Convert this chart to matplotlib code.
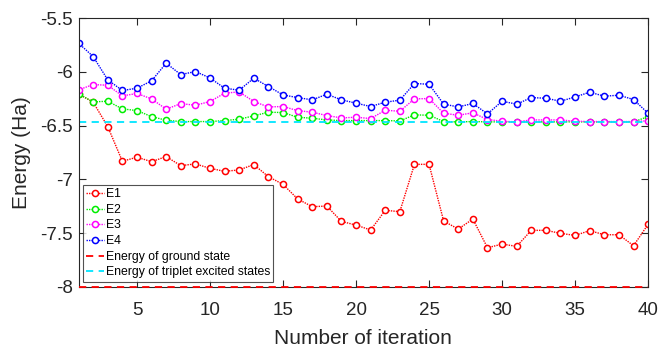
import numpy as np
import matplotlib.pyplot as plt

plt.rcParams['font.family'] = ['Liberation Sans', 'DejaVu Sans']

# iteration numbers
it = np.arange(1, 41)

# energies (Ha)
E1 = [-6.205, -6.282, -6.509, -6.831, -6.794, -6.835, -6.788, -6.872, -6.856, -6.897,
      -6.925, -6.912, -6.862, -6.975, -7.046, -7.182, -7.254, -7.248, -7.391, -7.425,
      -7.471, -7.288, -7.300, -6.860, -6.860, -7.388, -7.462, -7.369, -7.636, -7.602,
      -7.623, -7.474, -7.474, -7.502, -7.521, -7.477, -7.515, -7.515, -7.617, -7.418]
E2 = [-6.205, -6.279, -6.273, -6.344, -6.360, -6.416, -6.450, -6.462, -6.462, -6.462,
      -6.453, -6.440, -6.409, -6.375, -6.378, -6.422, -6.431, -6.447, -6.453, -6.453,
      -6.453, -6.453, -6.456, -6.400, -6.403, -6.462, -6.465, -6.462, -6.465, -6.465,
      -6.465, -6.465, -6.465, -6.465, -6.465, -6.465, -6.465, -6.465, -6.465, -6.416]
E3 = [-6.167, -6.118, -6.124, -6.223, -6.201, -6.251, -6.347, -6.295, -6.310, -6.276,
      -6.198, -6.186, -6.276, -6.326, -6.322, -6.360, -6.375, -6.406, -6.428, -6.422,
      -6.434, -6.357, -6.366, -6.251, -6.248, -6.385, -6.403, -6.381, -6.443, -6.459,
      -6.465, -6.447, -6.447, -6.447, -6.459, -6.462, -6.462, -6.462, -6.462, -6.455]
E4 = [-5.733, -5.857, -6.074, -6.173, -6.152, -6.083, -5.919, -6.025, -5.997, -6.056,
      -6.152, -6.170, -6.059, -6.136, -6.214, -6.239, -6.260, -6.208, -6.260, -6.291,
      -6.322, -6.282, -6.263, -6.108, -6.115, -6.300, -6.326, -6.294, -6.391, -6.273,
      -6.300, -6.239, -6.245, -6.273, -6.233, -6.189, -6.226, -6.217, -6.257, -6.385]

ground_state = -8.0
triplet_state = -6.468

series = [(E1, 'E1', '#ff0000'), (E2, 'E2', '#00ee00'),
          (E3, 'E3', '#ff00ff'), (E4, 'E4', '#0000ff')]

fig = plt.figure(figsize=(6.6, 3.49), dpi=100)
ax = fig.add_axes([0.119, 0.178, 0.863, 0.77])

for vals, name, col in series:
    ax.plot(it, vals, color=col, ls=(0, (1, 0.8)), lw=1.0, marker='o', ms=4.4,
            mfc='white', mec=col, mew=1.1, label=name)

ax.axhline(ground_state, color='#ff0000', ls='--', lw=1.3, dashes=(4, 3),
           label='Energy of ground state', zorder=5, clip_on=False)
ax.axhline(triplet_state, color='#00e5ff', ls='--', lw=1.3, dashes=(4, 3),
           label='Energy of triplet excited states')

ax.set_xlim(1, 40)
ax.set_ylim(-8, -5.5)
ax.set_xticks([5, 10, 15, 20, 25, 30, 35, 40])
ax.set_yticks([-8, -7.5, -7, -6.5, -6, -5.5])
ax.set_yticklabels(['-8', '-7.5', '-7', '-6.5', '-6', '-5.5'])

for s in ax.spines.values():
    s.set_color('#262626')
    s.set_linewidth(0.8)
ax.tick_params(direction='in', top=True, right=True, length=5, width=0.8,
               labelsize=13.5, colors='#262626')
ax.tick_params(axis='x', pad=11)
ax.tick_params(axis='y', pad=4)
ax.set_xlabel('Number of iteration', fontsize=15, color='#262626', labelpad=7)
ax.set_ylabel('Energy (Ha)', fontsize=15, color='#262626', labelpad=7)

leg = ax.legend(loc='lower left', bbox_to_anchor=(0.008, 0.02), fontsize=8.8,
                frameon=True, fancybox=False, borderpad=0.25, labelspacing=0.3,
                handlelength=1.5, handletextpad=0.1, borderaxespad=0.0)
leg.get_frame().set_edgecolor('#262626')
leg.get_frame().set_linewidth(0.8)

fig.savefig('out.png', dpi=100)
